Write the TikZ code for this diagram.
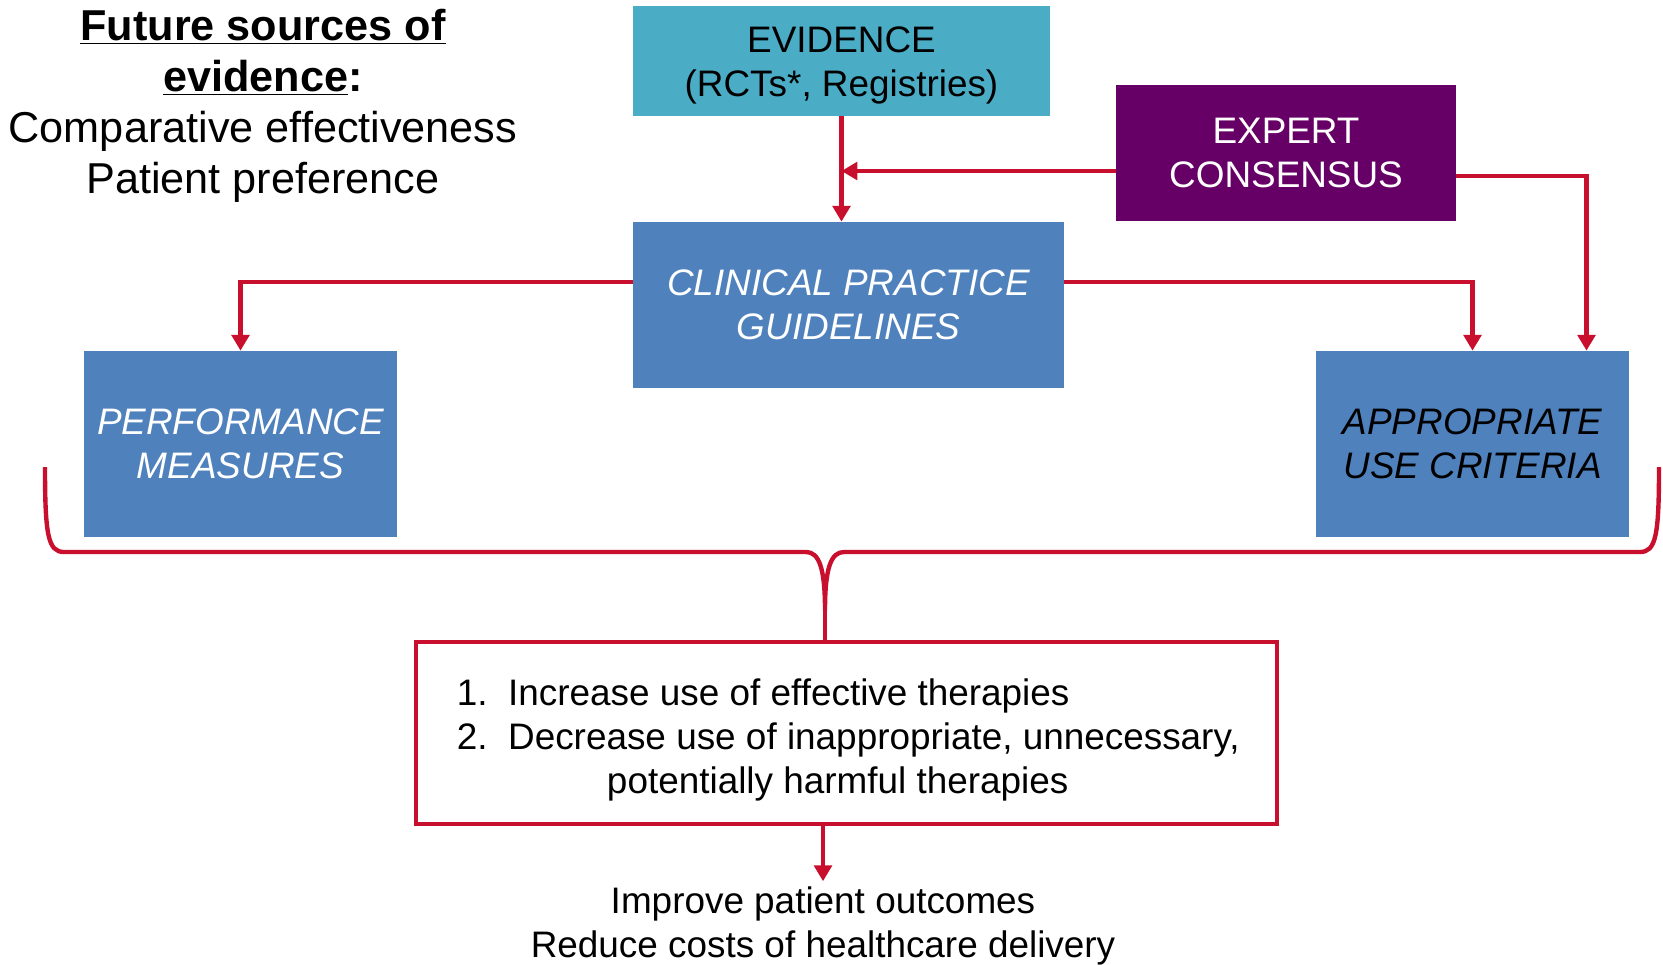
\documentclass[tikz,border=0pt]{standalone}
\usepackage{fontspec}
\setmainfont{Liberation Sans}
\usepackage{tikz}
\usetikzlibrary{positioning, arrows.meta, calc}
\usepackage{xcolor}
\definecolor{evidcol}{RGB}{75,172,198}
\definecolor{guidecol}{RGB}{79,129,189}
\definecolor{expertcol}{RGB}{102,0,102}
\definecolor{linecol}{RGB}{200,16,46}

\begin{document}
\begin{tikzpicture}[
  x=0.02cm, y=-0.02cm,
  every node/.style={font=\fontsize{21}{25}\selectfont, align=center},
  box/.style={rectangle, inner sep=0pt},
  arr/.style={draw=linecol, line width=2.5pt, -{Triangle[width=10pt,length=9pt]}},
  link/.style={draw=linecol, line width=2.5pt}
]
\useasboundingbox (0,0) rectangle (1663,964);

% Sources of evidence
\node[font=\fontsize{24.6}{29}\selectfont] (title) at (263,106)
  {\textbf{\underline{Future sources of}}\\
  \textbf{\underline{evidence}:}\\Comparative effectiveness\\Patient preference};

% Top boxes
\node[box, fill=evidcol, minimum width=8.34cm, minimum height=2.2cm,
  label={[yshift=-2.4pt]center:{EVIDENCE\\(RCTs*, Registries)}}] (evid) at (841.5,61) {};
\node[box, fill=expertcol, text=white, minimum width=6.8cm, minimum height=2.72cm] (expert) at (1286,153)
  {EXPERT\\CONSENSUS};
\node[box, fill=guidecol, text=white, font=\fontsize{21}{25}\selectfont\itshape,
  minimum width=8.62cm, minimum height=3.32cm] (cpg) at (848.5,305)
  {CLINICAL PRACTICE\\GUIDELINES};

% Derived tools
\node[box, fill=guidecol, text=white, font=\fontsize{21}{25}\selectfont\itshape,
  minimum width=6.26cm, minimum height=3.72cm] (perf) at (240.5,444)
  {PERFORMANCE\\MEASURES};
\node[box, fill=guidecol, text=black, font=\fontsize{21}{25}\selectfont\itshape,
  minimum width=6.26cm, minimum height=3.72cm] (auc) at (1472.5,444)
  {APPROPRIATE\\USE CRITERIA};

% Goals and results
\node[box, draw=linecol, line width=2.5pt, minimum width=17.22cm, minimum height=3.64cm,
  label={[yshift=-4.2pt, xshift=1pt]center:{\begin{tabular}{@{}r@{\ \ }l@{}}
    1. & Increase use of effective therapies\\
    2. & Decrease use of inappropriate, unnecessary,\\
    \multicolumn{2}{c}{potentially harmful therapies\hspace*{12pt}}
  \end{tabular}}}] (outcome) at (846.5,733) {};
\node[inner sep=0pt] (results) at (823,926) {Improve patient outcomes\\Reduce costs of healthcare delivery};

% Connectors
\coordinate (merge) at (841.5,171);
\coordinate (tip) at (825,610);
\draw[arr] (evid.south) -- (evid.south |- cpg.north);
\draw[arr] (expert.west |- merge) -- (merge);
\draw[arr] ([yshift=-13pt]expert.east) -| ($(auc.north)+(114,0)$);
\draw[arr] ([yshift=13pt]cpg.west) -| (perf.north);
\draw[arr] ([yshift=13pt]cpg.east) -| (auc.north);

% Brace gathering the tools
\draw[link, line join=round] (45,467) .. controls (45,535) and (48,552) .. (64,552) -- (806,552)
  .. controls (819,552) and (825,568) .. (tip)
  .. controls (825,568) and (831,552) .. (844,552) -- (1640,552)
  .. controls (1656,552) and (1659,535) .. (1659,467);
\draw[link] (tip) -- (tip |- outcome.north);

\draw[arr] (outcome.south -| results.north) -- ([yshift=3pt]results.north);
\end{tikzpicture}
\end{document}
